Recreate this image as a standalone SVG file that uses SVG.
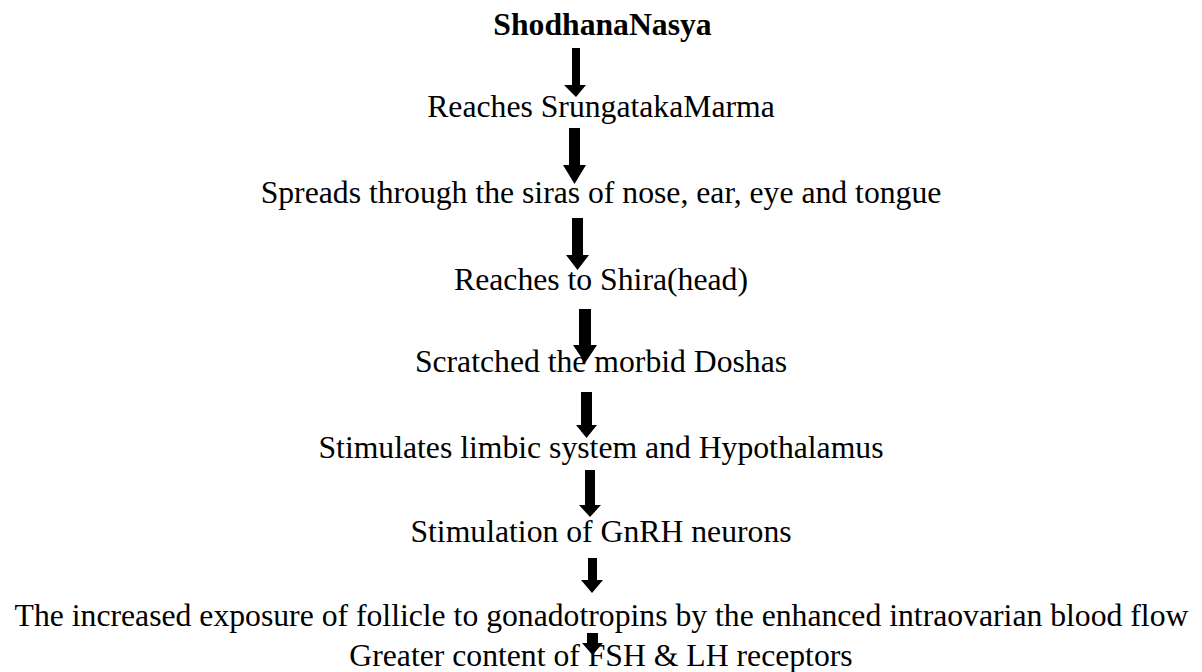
<svg xmlns="http://www.w3.org/2000/svg" width="1202" height="672" viewBox="0 0 1202 672">
<style>
text{font-family:"Liberation Serif","Times New Roman",serif;font-size:31.7px;fill:#000;text-anchor:middle}
.b{font-weight:bold}
.arr{fill:#000;stroke:none}
</style>
<rect width="1202" height="672" fill="#fff"/>
<g id="connectors">
<polygon class="arr" points="572,48 580,48 580,85 586,85 576,97 564,85 572,85"/>
<polygon class="arr" points="569,128 580,128 580,165 586,165 574.5,184 563,165 569,165"/>
<polygon class="arr" points="572,218 583,218 583,255 589,255 577.5,270 566,255 572,255"/>
<polygon class="arr" points="579,309 591,309 591,345 597,345 585,363 573,345 579,345"/>
<polygon class="arr" points="581,392 592,392 592,425 597,425 586.5,438 576,425 581,425"/>
<polygon class="arr" points="585,470 595,470 595,505 601,505 590,517 579,505 585,505"/>
<polygon class="arr" points="588,558 597,558 597,580 603,580 592,593 581,580 588,580"/>
<polygon class="arr" points="587,633 598,633 598,643 603,643 592.5,655 582,643 587,643"/>
</g>
<g id="n1"><text class="b" x="602.5" y="35">ShodhanaNasya</text></g>
<g id="n2"><text x="601" y="117">Reaches SrungatakaMarma</text></g>
<g id="n3"><text x="601" y="203">Spreads through the siras of nose, ear, eye and tongue</text></g>
<g id="n4"><text x="601" y="290">Reaches to Shira(head)</text></g>
<g id="n5"><text x="601" y="372">Scratched the morbid Doshas</text></g>
<g id="n6"><text x="601" y="458">Stimulates limbic system and Hypothalamus</text></g>
<g id="n7"><text x="601" y="542">Stimulation of GnRH neurons</text></g>
<g id="n8"><text x="601.5" y="626">The increased exposure of follicle to gonadotropins by the enhanced intraovarian blood flow</text></g>
<g id="n9"><text x="601" y="666">Greater content of FSH &amp; LH receptors</text></g>
</svg>
